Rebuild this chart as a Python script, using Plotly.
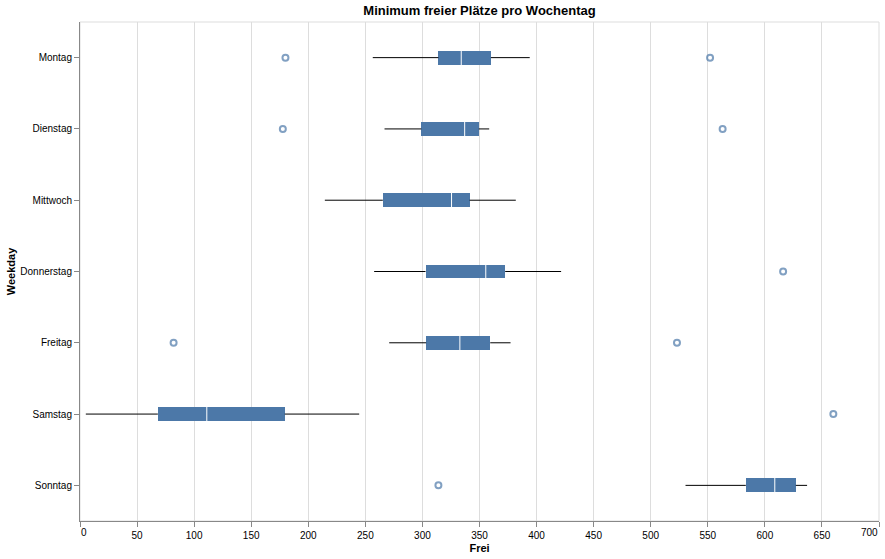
import plotly.graph_objects as go

days = ["Montag", "Dienstag", "Mittwoch", "Donnerstag", "Freitag", "Samstag", "Sonntag"]
lower = [256.5, 266.8, 214.5, 257.7, 270.9, 5.1, 530.5]
q1 = [314.0, 299.0, 265.3, 302.7, 303.3, 68.2, 583.3]
median = [334.0, 337.0, 325.5, 355.5, 332.8, 111.1, 608.7]
q3 = [360.0, 349.4, 341.3, 372.5, 359.4, 179.4, 627.1]
upper = [394.0, 358.5, 381.8, 421.5, 377.2, 244.6, 637.0]

outlier_days = ["Montag", "Montag", "Dienstag", "Dienstag", "Donnerstag", "Freitag", "Freitag", "Samstag", "Sonntag"]
outlier_vals = [180.0, 552.0, 177.7, 563.0, 616.0, 82.0, 523.0, 660.0, 314.0]

x_ticks = list(range(0, 701, 50))

BLUE = "#4c78a8"
FONT = "Liberation Sans, Arial, sans-serif"

fig = go.Figure()

# whiskers (drawn outside the box only)
wx, wy = [], []
for d, lo, a, b, hi in zip(days, lower, q1, q3, upper):
    wx += [lo, a, None, b, hi, None]
    wy += [d, d, None, d, d, None]
fig.add_trace(go.Scatter(x=wx, y=wy, mode="lines", line=dict(color="black", width=1),
                         showlegend=False, hoverinfo="skip"))

# boxes
fig.add_trace(go.Bar(y=days, x=[b - a for a, b in zip(q1, q3)], base=q1, orientation="h",
                     width=0.196, marker=dict(color=BLUE, line=dict(width=0)),
                     showlegend=False))

# medians
fig.add_trace(go.Scatter(x=median, y=days, mode="markers",
                         marker=dict(symbol="line-ns", size=14, color="white",
                                     line=dict(color="white", width=1)),
                         showlegend=False))

# outliers
fig.add_trace(go.Scatter(x=outlier_vals, y=outlier_days, mode="markers",
                         marker=dict(symbol="circle-open", size=6, color="rgba(76,120,168,0.7)",
                                     line=dict(color="rgba(76,120,168,0.7)", width=2)),
                         showlegend=False))

# flush first/last tick labels (as in the reference)
tick_text = ["" if v in (x_ticks[0], x_ticks[-1]) else str(v) for v in x_ticks]
annotations = [
    dict(x=x_ticks[0], xref="x", y=0, yref="paper", yanchor="top", xanchor="left",
         yshift=-5, text=str(x_ticks[0]), showarrow=False, borderpad=0,
         font=dict(size=10, color="black", family=FONT)),
    dict(x=x_ticks[-1], xref="x", y=0, yref="paper", yanchor="top", xanchor="right",
         yshift=-5, text=str(x_ticks[-1]), showarrow=False, borderpad=0,
         font=dict(size=10, color="black", family=FONT)),
]

fig.update_layout(
    width=885, height=559,
    margin=dict(l=80, r=6, t=22, b=38, autoexpand=False),
    plot_bgcolor="white", paper_bgcolor="white",
    font=dict(family=FONT, size=10, color="black"),
    title=dict(text="<b>Minimum freier Plätze pro Wochentag</b>", x=0.5418, xanchor="center",
               yref="container", y=0.981, yanchor="middle",
               font=dict(family=FONT, size=13, color="black")),
    bargap=0,
    xaxis=dict(range=[0, 700], tickmode="array", tickvals=x_ticks, ticktext=tick_text,
               showgrid=True, gridcolor="#dddddd", gridwidth=1,
               zeroline=False, showline=True, linecolor="#888888", linewidth=1,
               ticks="outside", ticklen=5, tickcolor="#888888",
               automargin=False,
               tickfont=dict(size=10, color="black"),
               title=dict(text="<b>Frei</b>", font=dict(size=11, color="black"), standoff=4)),
    yaxis=dict(type="category", categoryorder="array", categoryarray=days, autorange="reversed",
               showgrid=False, zeroline=False, showline=True, linecolor="#888888", linewidth=1,
               ticks="outside", ticklen=5, tickcolor="#888888", automargin=False,
               tickfont=dict(size=10, color="black"),
               title=dict(text="<b>Weekday</b>", font=dict(size=11, color="black"), standoff=2)),
    annotations=annotations,
    shapes=[dict(type="rect", xref="paper", yref="paper", x0=0, x1=1, y0=0, y1=1,
                 line=dict(color="#dddddd", width=1), layer="below")],
)

fig.write_html("out.html")
